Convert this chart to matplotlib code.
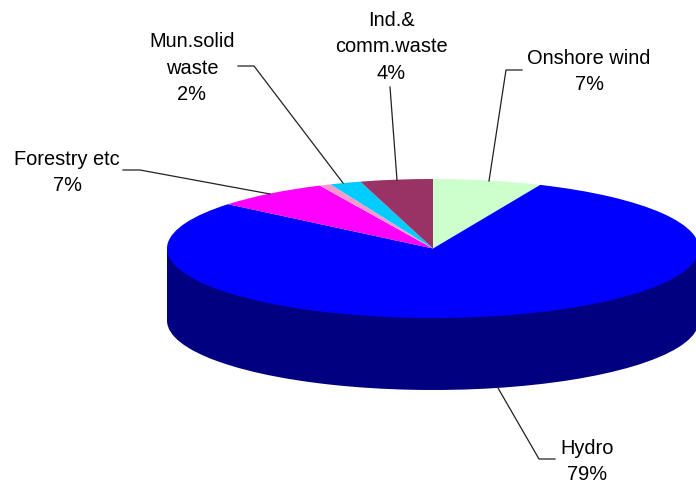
import matplotlib
matplotlib.use('Agg')
import matplotlib.pyplot as plt

# Share of each source, clockwise from 12 o'clock
sources = ['Onshore wind', 'Hydro', 'Forestry etc', 'Other', 'Mun.solid\nwaste', 'Ind.&\ncomm.waste']
shares = [6.6, 79.4, 7.0, 0.7, 1.9, 4.4]
shown_pct = ['7%', '79%', '7%', '', '2%', '4%']
top_colors = ['#CCFFCC', '#0000FF', '#FF00FF', '#FF99CC', '#00CCFF', '#993366']
side_color = '#000080'

plt.rcParams['font.family'] = ['Liberation Sans', 'DejaVu Sans']

W, H = 696, 483
CX, CY = 433, 248.5      # pie centre, pixels
RX, RY = 266, 69.5       # ellipse radii, pixels
DEPTH = 72 / RY          # slab height in y units

fig = plt.figure(figsize=(W / 100, H / 100), dpi=100)
ax = fig.add_axes([0, 0, 1, 1])

# Side of the slab: dark pie shifted down, joined to the top by a band
ax.pie(shares, colors=[side_color] * len(shares), startangle=90, counterclock=False,
       center=(0, -DEPTH), radius=1)
ax.bar(0, DEPTH, width=2, bottom=-DEPTH, color=side_color, linewidth=0)
ax.pie(shares, colors=top_colors, startangle=90, counterclock=False, radius=1)

# pie() forces equal aspect; one unit is RX by RY pixels here
ax.set_aspect('auto')
ax.set_xlim(-CX / RX, (W - CX) / RX)
ax.set_ylim(-(H - CY) / RY, CY / RY)
ax.axis('off')

# Label anchors and leader lines, in pixels from the top left
label_xy = [(589, 71.5), (587, 461.5), (67, 172.5), None, (192, 68), (391, 47)]
leaders = [
    [(489, 181), (506, 70), (522, 70)],
    [(498, 388), (539, 459), (555, 459)],
    [(270, 194), (140, 170), (123, 170)],
    None,
    [(343, 183), (254, 66), (238, 66)],
    [(397, 180), (390, 87)],
]


def to_fig(p):
    return p[0] / W, 1 - p[1] / H


for name, pct, xy, path in zip(sources, shown_pct, label_xy, leaders):
    if xy is None:
        continue
    pts = [to_fig(p) for p in path]
    fig.add_artist(plt.Line2D([p[0] for p in pts], [p[1] for p in pts],
                              color='#222222', linewidth=0.9))
    x, y = to_fig(xy)
    fig.text(x, y, f'{name}\n{pct}', ha='center', va='center', fontsize=14.4,
             color='black', linespacing=1.48)

fig.savefig('out.png', dpi=100)
